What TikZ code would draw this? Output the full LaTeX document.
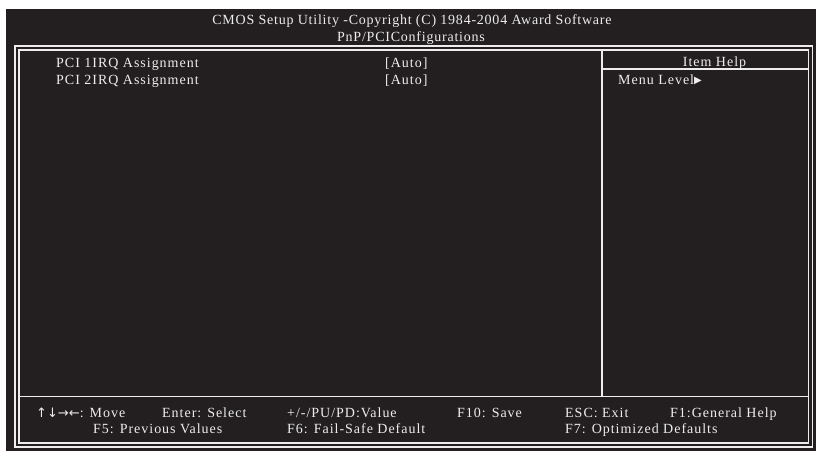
\documentclass[tikz,border=0pt]{standalone}
\usepackage{fontspec}
\setmainfont{Liberation Serif}
\newfontfamily\symfont{DejaVu Sans}
\definecolor{biosbg}{HTML}{231F20}
\definecolor{biosfg}{HTML}{EDEDED}
\begin{document}
\begin{tikzpicture}[x=1pt,y=-1pt,
  frameline/.style={draw=biosfg, line width=1.3pt},
  txt/.style={text=biosfg, inner sep=0pt, anchor=base west, font=\fontsize{14}{16}\selectfont\addfontfeature{LetterSpace=7}},
  ctxt/.style={txt, anchor=base},
  ttxt/.style={ctxt, font=\fontsize{14}{16}\selectfont\addfontfeature{LetterSpace=5.5}},
]
\useasboundingbox (0,0) rectangle (816,451);
\fill[white] (0,0) rectangle (816,451);
\fill[biosbg] (6,9) rectangle (816,451);
\draw[frameline] (15,46) rectangle (812.5,447);
\draw[frameline] (19,50) rectangle (808.5,443);
\coordinate (divtop) at (602,50);
\coordinate (divbot) at (602,396.5);
\coordinate (botl) at (19,396.5);
\coordinate (botr) at (808.5,396.5);
\coordinate (helpl) at (602,69);
\coordinate (helpr) at (808.5,69);
\draw[frameline] (divtop) -- (divbot);
\draw[frameline] (botl) -- (botr);
\draw[frameline] (helpl) -- (helpr);

\node[ttxt] (title1) at (412,24) {CMOS Setup Utility -Copyright (C) 1984-2004 Award Software};
\node[ttxt] (title2) at (411,41.5) {PnP/PCIConfigurations};
\node[txt] (pci1) at (56,67.3) {PCI 1IRQ Assignment};
\node[txt] (pci2) at (56,84.3) {PCI 2IRQ Assignment};
\node[txt] (auto1) at (385,67.3) {[Auto]};
\node[txt] (auto2) at (385,84.3) {[Auto]};
\node[ctxt] (help) at (714.5,66.5) {Item Help};
\node[txt] (menu) at (618,84) {Menu Level{\symfont\fontsize{10}{10}\selectfont\raisebox{0.3pt}{▶}}};

\node[txt] (k1) at (36,417.3) {{\symfont\fontsize{13}{14}\selectfont ↑↓→←}: Move};
\node[txt] (k2) at (162,417.3) {Enter: Select};
\node[txt] (k3) at (287,417.3) {+/-/PU/PD:Value};
\node[txt] (k4) at (457,417.3) {F10: Save};
\node[txt] (k5) at (565,417.3) {ESC: Exit};
\node[txt] (k6) at (670,417.3) {F1:General Help};
\node[txt] (k7) at (93,433.3) {F5: Previous Values};
\node[txt] (k8) at (287,433.3) {F6: Fail-Safe Default};
\node[txt] (k9) at (565,433.3) {F7: Optimized Defaults};
\end{tikzpicture}
\end{document}
